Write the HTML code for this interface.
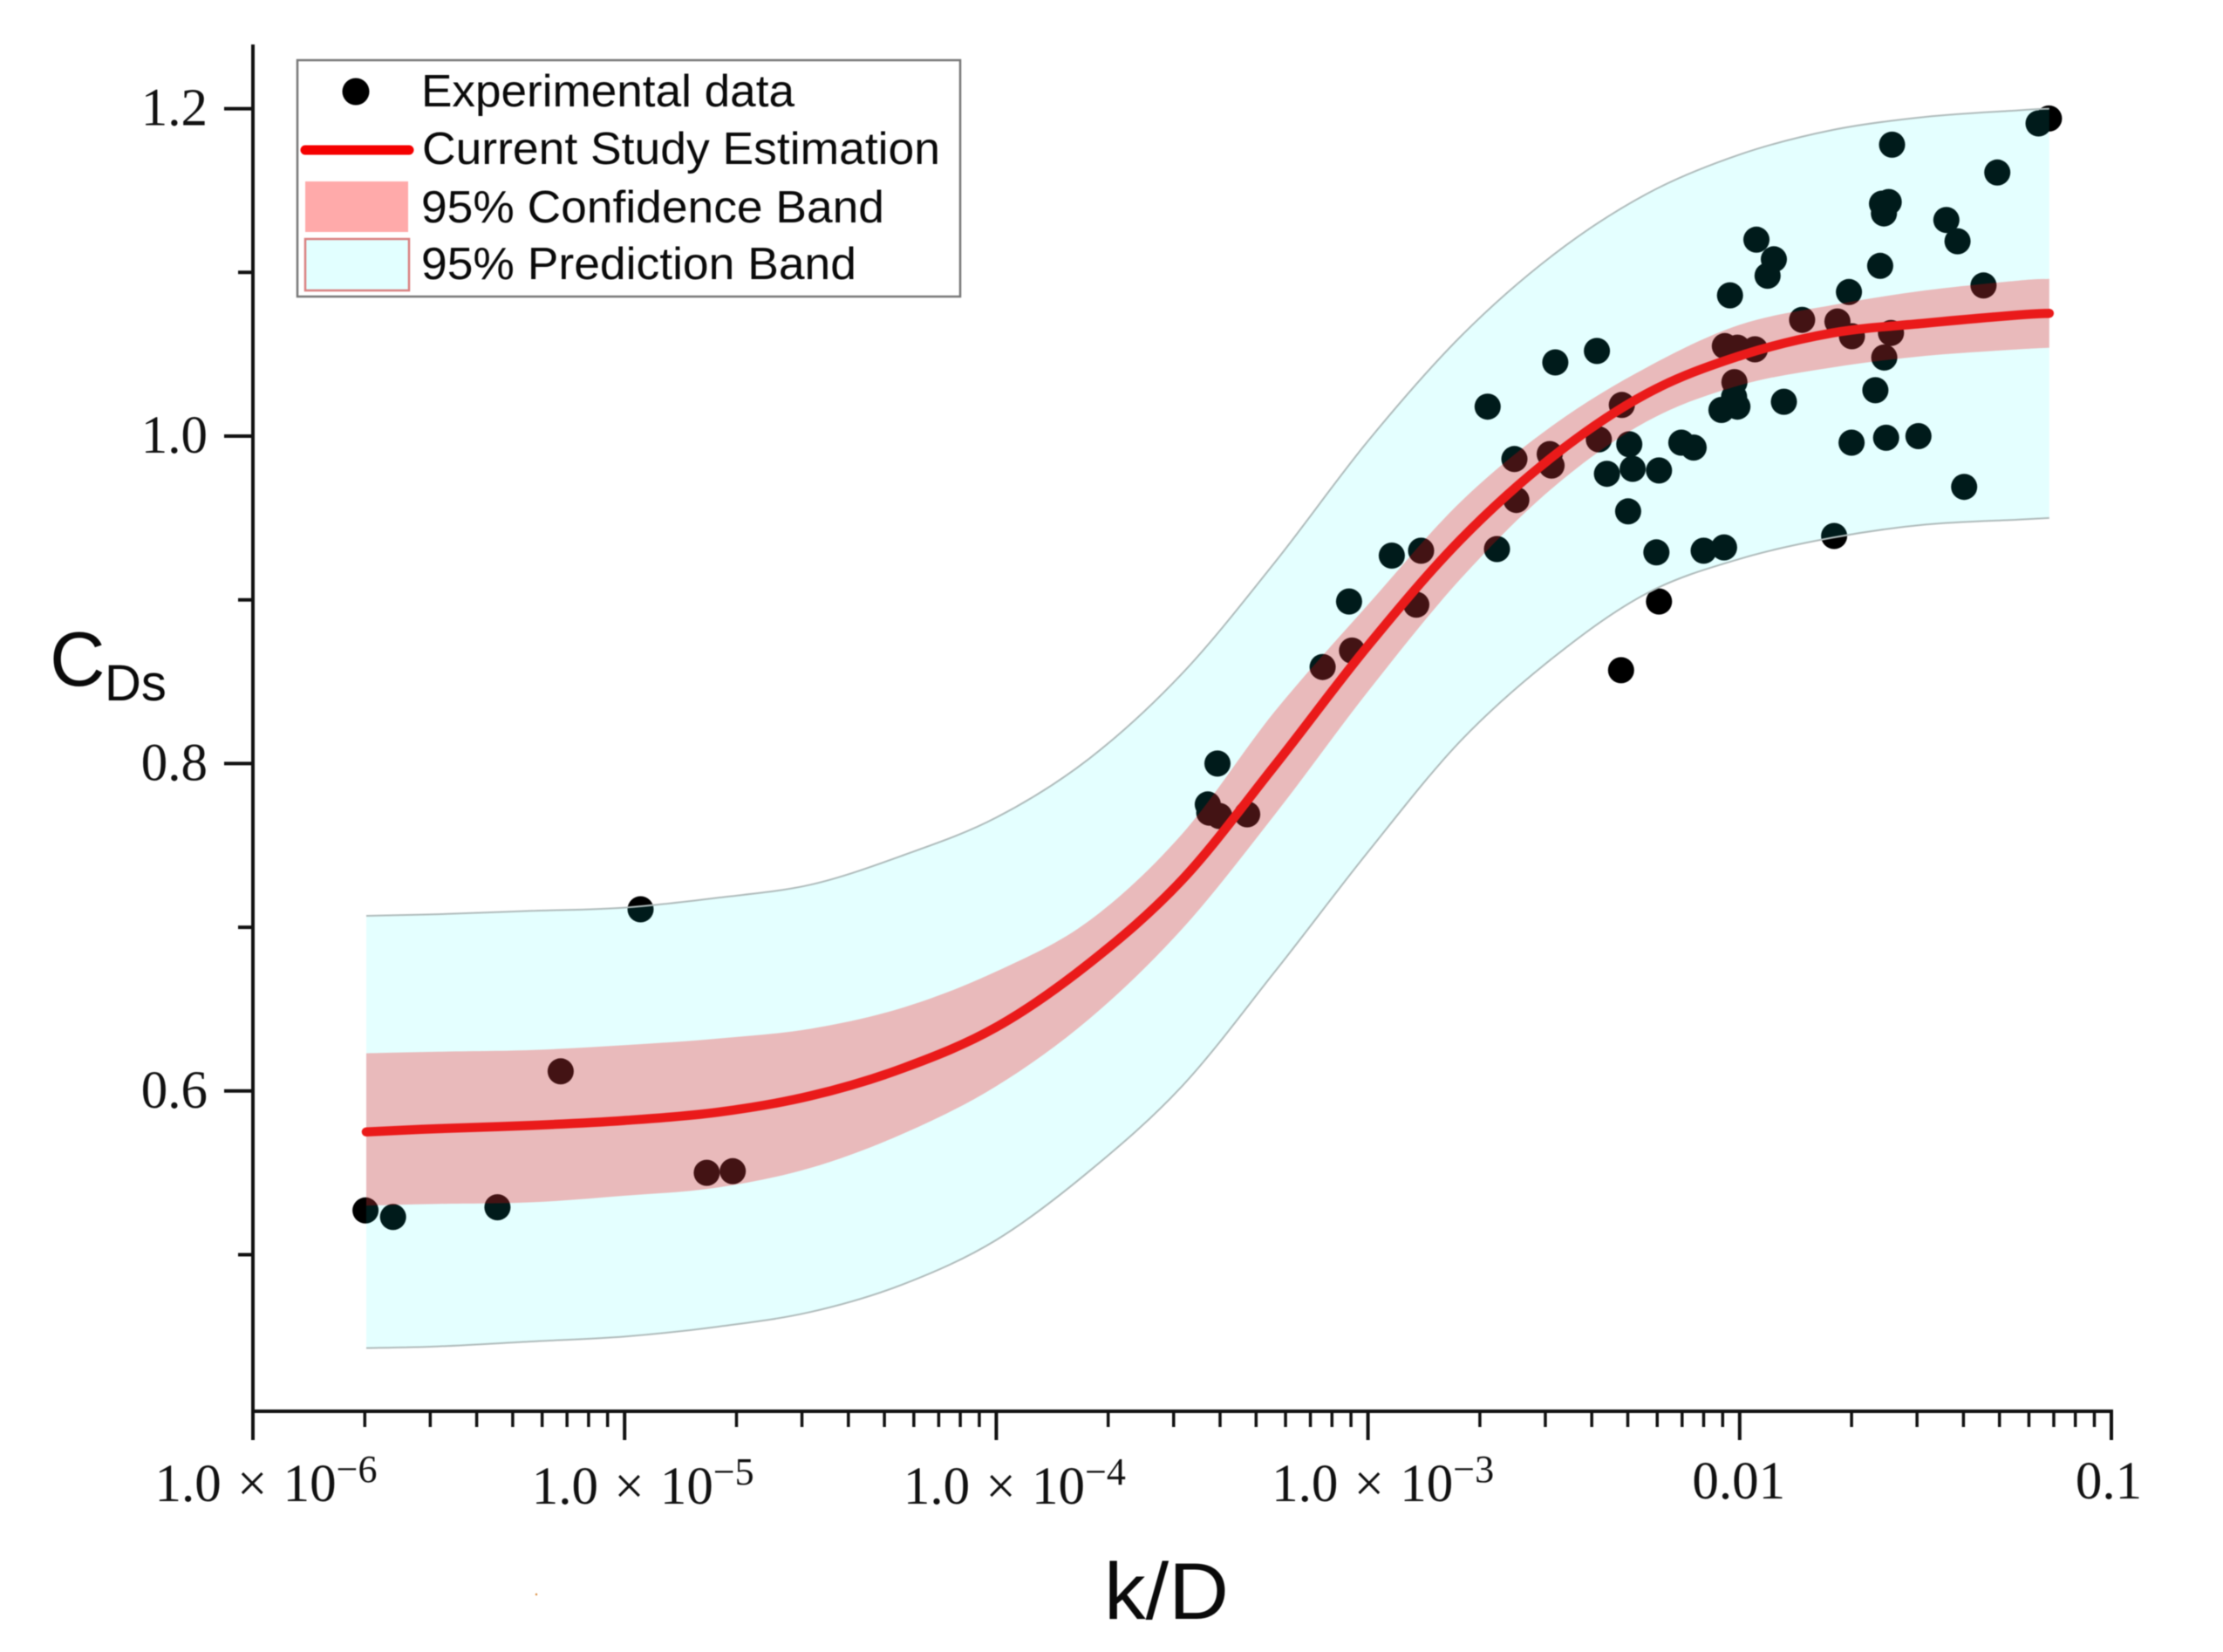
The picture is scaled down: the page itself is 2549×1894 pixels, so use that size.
<!DOCTYPE html>
<html lang="en">
<head>
<meta charset="utf-8">
<title>CDs versus k/D</title>
<style>
  html, body { margin: 0; padding: 0; background: #fff; }
  body { width: 2549px; height: 1894px; overflow: hidden; }
  svg { display: block; filter: blur(0.6px); }
  .serif { font-family: "Liberation Serif", "Times New Roman", serif; fill: #111; }
  .sans { font-family: "Liberation Sans", Arial, sans-serif; fill: #0a0a0a; }
</style>
</head>
<body>
<svg id="chart" xmlns="http://www.w3.org/2000/svg" width="2549" height="1894" viewBox="0 0 2549 1894">
  <rect x="0" y="0" width="2549" height="1894" fill="#ffffff"/>
  <g id="points"></g>
  <g id="bands"></g>
  <g id="fit"></g>
  <g id="axes"></g>

  <g>
    <text class="sans" x="57" y="786" font-size="88">C</text>
    <text class="sans" x="120" y="803" font-size="58">Ds</text>
  </g>
  <text class="sans" x="1266" y="1856" font-size="92" textLength="143" lengthAdjust="spacingAndGlyphs">k/D</text>
  <circle cx="615" cy="1828" r="1.2" fill="#d98a3a"/>

  <g>
    <rect x="341" y="69" width="760" height="271" fill="#ffffff" stroke="#777777" stroke-width="2.5"/>
    <ellipse cx="408" cy="105" rx="15.5" ry="15.5" fill="#000000"/>
    <line x1="350" y1="172" x2="469" y2="172" stroke="#f50000" stroke-width="11" stroke-linecap="round"/>
    <rect x="350" y="208" width="118" height="58" fill="#ffaaaa"/>
    <rect x="350" y="274" width="119" height="59" fill="#e2ffff" stroke="#d98080" stroke-width="2.5"/>
    <text class="sans" x="483" y="122" font-size="52" textLength="428" lengthAdjust="spacingAndGlyphs">Experimental data</text>
    <text class="sans" x="484" y="188" font-size="52" textLength="594" lengthAdjust="spacingAndGlyphs">Current Study Estimation</text>
    <text class="sans" x="483" y="255" font-size="52" textLength="531" lengthAdjust="spacingAndGlyphs">95% Confidence Band</text>
    <text class="sans" x="483" y="320" font-size="52" textLength="499" lengthAdjust="spacingAndGlyphs">95% Prediction Band</text>
  </g>
</svg>

<script>
// Experimental data: log10(k/D) and CDs
const pointLog10K = [-5.697,-5.623,-5.342,-4.957,-5.172,-4.779,-4.709,-3.405,-3.431,-3.427,-3.400,-3.325,
  -3.122,-3.043,-3.051,-2.870,-2.857,-2.936,-2.678,-2.653,-2.601,-2.606,-2.496,-2.511,-2.506,-2.384,-2.379,
  -2.317,-2.297,-2.357,-2.288,-2.217,-2.300,-2.319,-2.217,-2.224,-2.157,-2.124,-2.097,-2.042,-2.026,-1.955,
  -1.908,-1.925,-2.040,-2.006,-1.959,-2.014,-2.015,-2.049,-2.006,-1.881,-1.832,-1.737,-1.698,-1.706,-1.593,
  -1.611,-1.635,-1.699,-1.606,-1.519,-1.746,-1.396,-1.622,-1.590,-1.599,-1.617,-1.612,-1.444,-1.414,-1.344,
  -1.307,-1.196,-1.168];
const pointCDs = [0.527,0.523,0.529,0.711,0.612,0.550,0.551,0.800,0.775,0.770,0.768,0.769,
  0.859,0.869,0.899,0.897,0.930,0.927,1.018,0.931,0.961,0.986,1.045,0.989,0.982,1.052,0.998,
  1.019,0.995,0.977,0.980,0.979,0.954,0.857,0.899,0.929,0.996,0.993,0.930,0.932,1.086,1.120,
  1.108,1.098,1.055,1.054,1.053,1.033,1.024,1.016,1.018,1.021,1.071,1.070,1.061,1.088,1.063,
  1.048,1.028,0.996,0.999,1.000,0.939,0.969,1.104,1.178,1.143,1.142,1.136,1.132,1.119,1.092,
  1.161,1.191,1.194];

// Curves at these log10(k/D) positions
const curveLog10K = [-5.695,-5.5,-5.25,-5,-4.75,-4.5,-4.25,-4,-3.75,-3.5,-3.25,-3,-2.75,-2.5,-2.25,-2,-1.75,-1.5,-1.25,-1.167];
const fitCDs = [0.575,0.577,0.579,0.582,0.587,0.597,0.614,0.639,0.678,0.729,0.799,0.872,0.937,0.988,1.026,1.049,1.063,1.069,1.074,1.075];
const confidenceUpper = [0.623,0.624,0.625,0.628,0.632,0.638,0.651,0.673,0.704,0.757,0.832,0.897,0.960,1.007,1.042,1.068,1.080,1.089,1.095,1.096];
const confidenceLower = [0.530,0.531,0.532,0.536,0.541,0.553,0.574,0.603,0.644,0.699,0.769,0.844,0.913,0.969,1.009,1.031,1.042,1.049,1.053,1.054];
const predictionUpper = [0.707,0.708,0.710,0.712,0.718,0.726,0.744,0.767,0.803,0.855,0.923,0.997,1.061,1.111,1.148,1.172,1.187,1.195,1.199,1.200];
const predictionLower = [0.443,0.444,0.447,0.450,0.456,0.465,0.482,0.509,0.551,0.603,0.673,0.746,0.814,0.865,0.904,0.925,0.938,0.946,0.949,0.950];

// Axis ticks and labels
const yMajorTicks = [1.2, 1.0, 0.8, 0.6];
const yMinorTicks = [1.1, 0.9, 0.7, 0.5];
const yTickLabels = ["1.2", "1.0", "0.8", "0.6"];
const xDecades = [-6, -5, -4, -3, -2, -1];
const xMinorMultipliers = [2, 3, 4, 5, 6, 7, 8, 9];
const xTickLabels = ["1.0 × 10", "1.0 × 10", "1.0 × 10", "1.0 × 10", "0.01", "0.1"];
const xTickExponents = ["−6", "−5", "−4", "−3", "", ""];

function xScale(log10k) { return 290 + 426.2 * (log10k + 6); }
function yScale(c) { return 500 + (1 - c) * 1877; }

const NS = "http://www.w3.org/2000/svg";
function make(tag, attrs, parent) {
  const el = document.createElementNS(NS, tag);
  for (const k in attrs) el.setAttribute(k, attrs[k]);
  parent.appendChild(el);
  return el;
}

function toPixels(xs, ys) {
  return xs.map(function (v, i) { return [xScale(v), yScale(ys[i])]; });
}
function smoothSegments(p) {
  let d = "";
  for (let i = 0; i < p.length - 1; i++) {
    const p0 = p[Math.max(i - 1, 0)], p1 = p[i], p2 = p[i + 1], p3 = p[Math.min(i + 2, p.length - 1)];
    const c1x = p1[0] + (p2[0] - p0[0]) / 6, c1y = p1[1] + (p2[1] - p0[1]) / 6;
    const c2x = p2[0] - (p3[0] - p1[0]) / 6, c2y = p2[1] - (p3[1] - p1[1]) / 6;
    d += " C" + c1x.toFixed(1) + " " + c1y.toFixed(1) + " " + c2x.toFixed(1) + " " + c2y.toFixed(1) + " " + p2[0].toFixed(1) + " " + p2[1].toFixed(1);
  }
  return d;
}
function openPath(ys) {
  const p = toPixels(curveLog10K, ys);
  return "M" + p[0][0].toFixed(1) + " " + p[0][1].toFixed(1) + smoothSegments(p);
}
function bandPath(upper, lower) {
  const u = toPixels(curveLog10K, upper);
  const l = toPixels(curveLog10K, lower).reverse();
  return "M" + u[0][0].toFixed(1) + " " + u[0][1].toFixed(1) + smoothSegments(u) +
    " L" + l[0][0].toFixed(1) + " " + l[0][1].toFixed(1) + smoothSegments(l) + " Z";
}

// Points sit beneath the translucent bands, as in the original figure
const pointsGroup = document.getElementById("points");
pointLog10K.forEach(function (v, i) {
  const dot = make("circle", { cx: xScale(v).toFixed(1), cy: yScale(pointCDs[i]).toFixed(1), r: 15, fill: "#000000" }, pointsGroup);
  
  
});

const bandsGroup = document.getElementById("bands");
const predBand = make("path", { d: bandPath(predictionUpper, predictionLower), fill: "rgba(0,255,255,0.105)" }, bandsGroup);


const predTop = make("path", { d: openPath(predictionUpper), fill: "none", stroke: "#b0bcbc", "stroke-width": 2 }, bandsGroup);


const predBottom = make("path", { d: openPath(predictionLower), fill: "none", stroke: "#b0bcbc", "stroke-width": 2 }, bandsGroup);


const confBand = make("path", { d: bandPath(confidenceUpper, confidenceLower), fill: "rgba(246,0,5,0.27)" }, bandsGroup);



const fitGroup = document.getElementById("fit");
const fitLine = make("path", { d: openPath(fitCDs), fill: "none", stroke: "#ea1a1a", "stroke-width": 10.5, "stroke-linecap": "round" }, fitGroup);



// Axes
const axesGroup = document.getElementById("axes");
const AX_LEFT = xScale(-6), AX_RIGHT = xScale(-1), AX_BOTTOM = 1618, AX_TOP = 51;
const yAxisLine = make("line", { x1: AX_LEFT, y1: AX_TOP, x2: AX_LEFT, y2: AX_BOTTOM + 2, stroke: "#111", "stroke-width": 4 }, axesGroup);


const xAxisLine = make("line", { x1: AX_LEFT - 2, y1: AX_BOTTOM, x2: AX_RIGHT + 2, y2: AX_BOTTOM, stroke: "#111", "stroke-width": 4 }, axesGroup);



yMajorTicks.forEach(function (v, i) {
  const t = make("line", { x1: AX_LEFT - 33, y1: yScale(v), x2: AX_LEFT, y2: yScale(v), stroke: "#111", "stroke-width": 4 }, axesGroup);
  
  
  const lab = make("text", { x: 238, y: yScale(v) + 19, "font-size": 61, "text-anchor": "end", "class": "serif" }, axesGroup);
  
  
  lab.textContent = yTickLabels[i];
});
yMinorTicks.forEach(function (v) {
  const t = make("line", { x1: AX_LEFT - 17, y1: yScale(v), x2: AX_LEFT, y2: yScale(v), stroke: "#111", "stroke-width": 4 }, axesGroup);
  
  
});

const xLabelNudge = [15, 21, 21, 17, -1, -3];
const xLabelDrop = [1721, 1724, 1724, 1721, 1718, 1718];
xDecades.forEach(function (dec, i) {
  const px = xScale(dec);
  const t = make("line", { x1: px, y1: AX_BOTTOM, x2: px, y2: 1651, stroke: "#111", "stroke-width": 4 }, axesGroup);
  
  
  if (dec < xDecades[xDecades.length - 1]) {
    xMinorMultipliers.forEach(function (m) {
      const mx = xScale(dec + Math.log10(m));
      const mt = make("line", { x1: mx, y1: AX_BOTTOM, x2: mx, y2: 1636, stroke: "#111", "stroke-width": 3.5 }, axesGroup);
      
      
    });
  }
  const lab = make("text", { x: px + xLabelNudge[i], y: xLabelDrop[i], "font-size": 61, "text-anchor": "middle", "class": "serif", "word-spacing": 3 }, axesGroup);
  
  
  lab.appendChild(document.createTextNode(xTickLabels[i]));
  if (xTickExponents[i]) {
    const sup = make("tspan", { "font-size": 44, dy: -22 }, lab);
    
    
    sup.textContent = xTickExponents[i];
  }
});
</script>
</body>
</html>
